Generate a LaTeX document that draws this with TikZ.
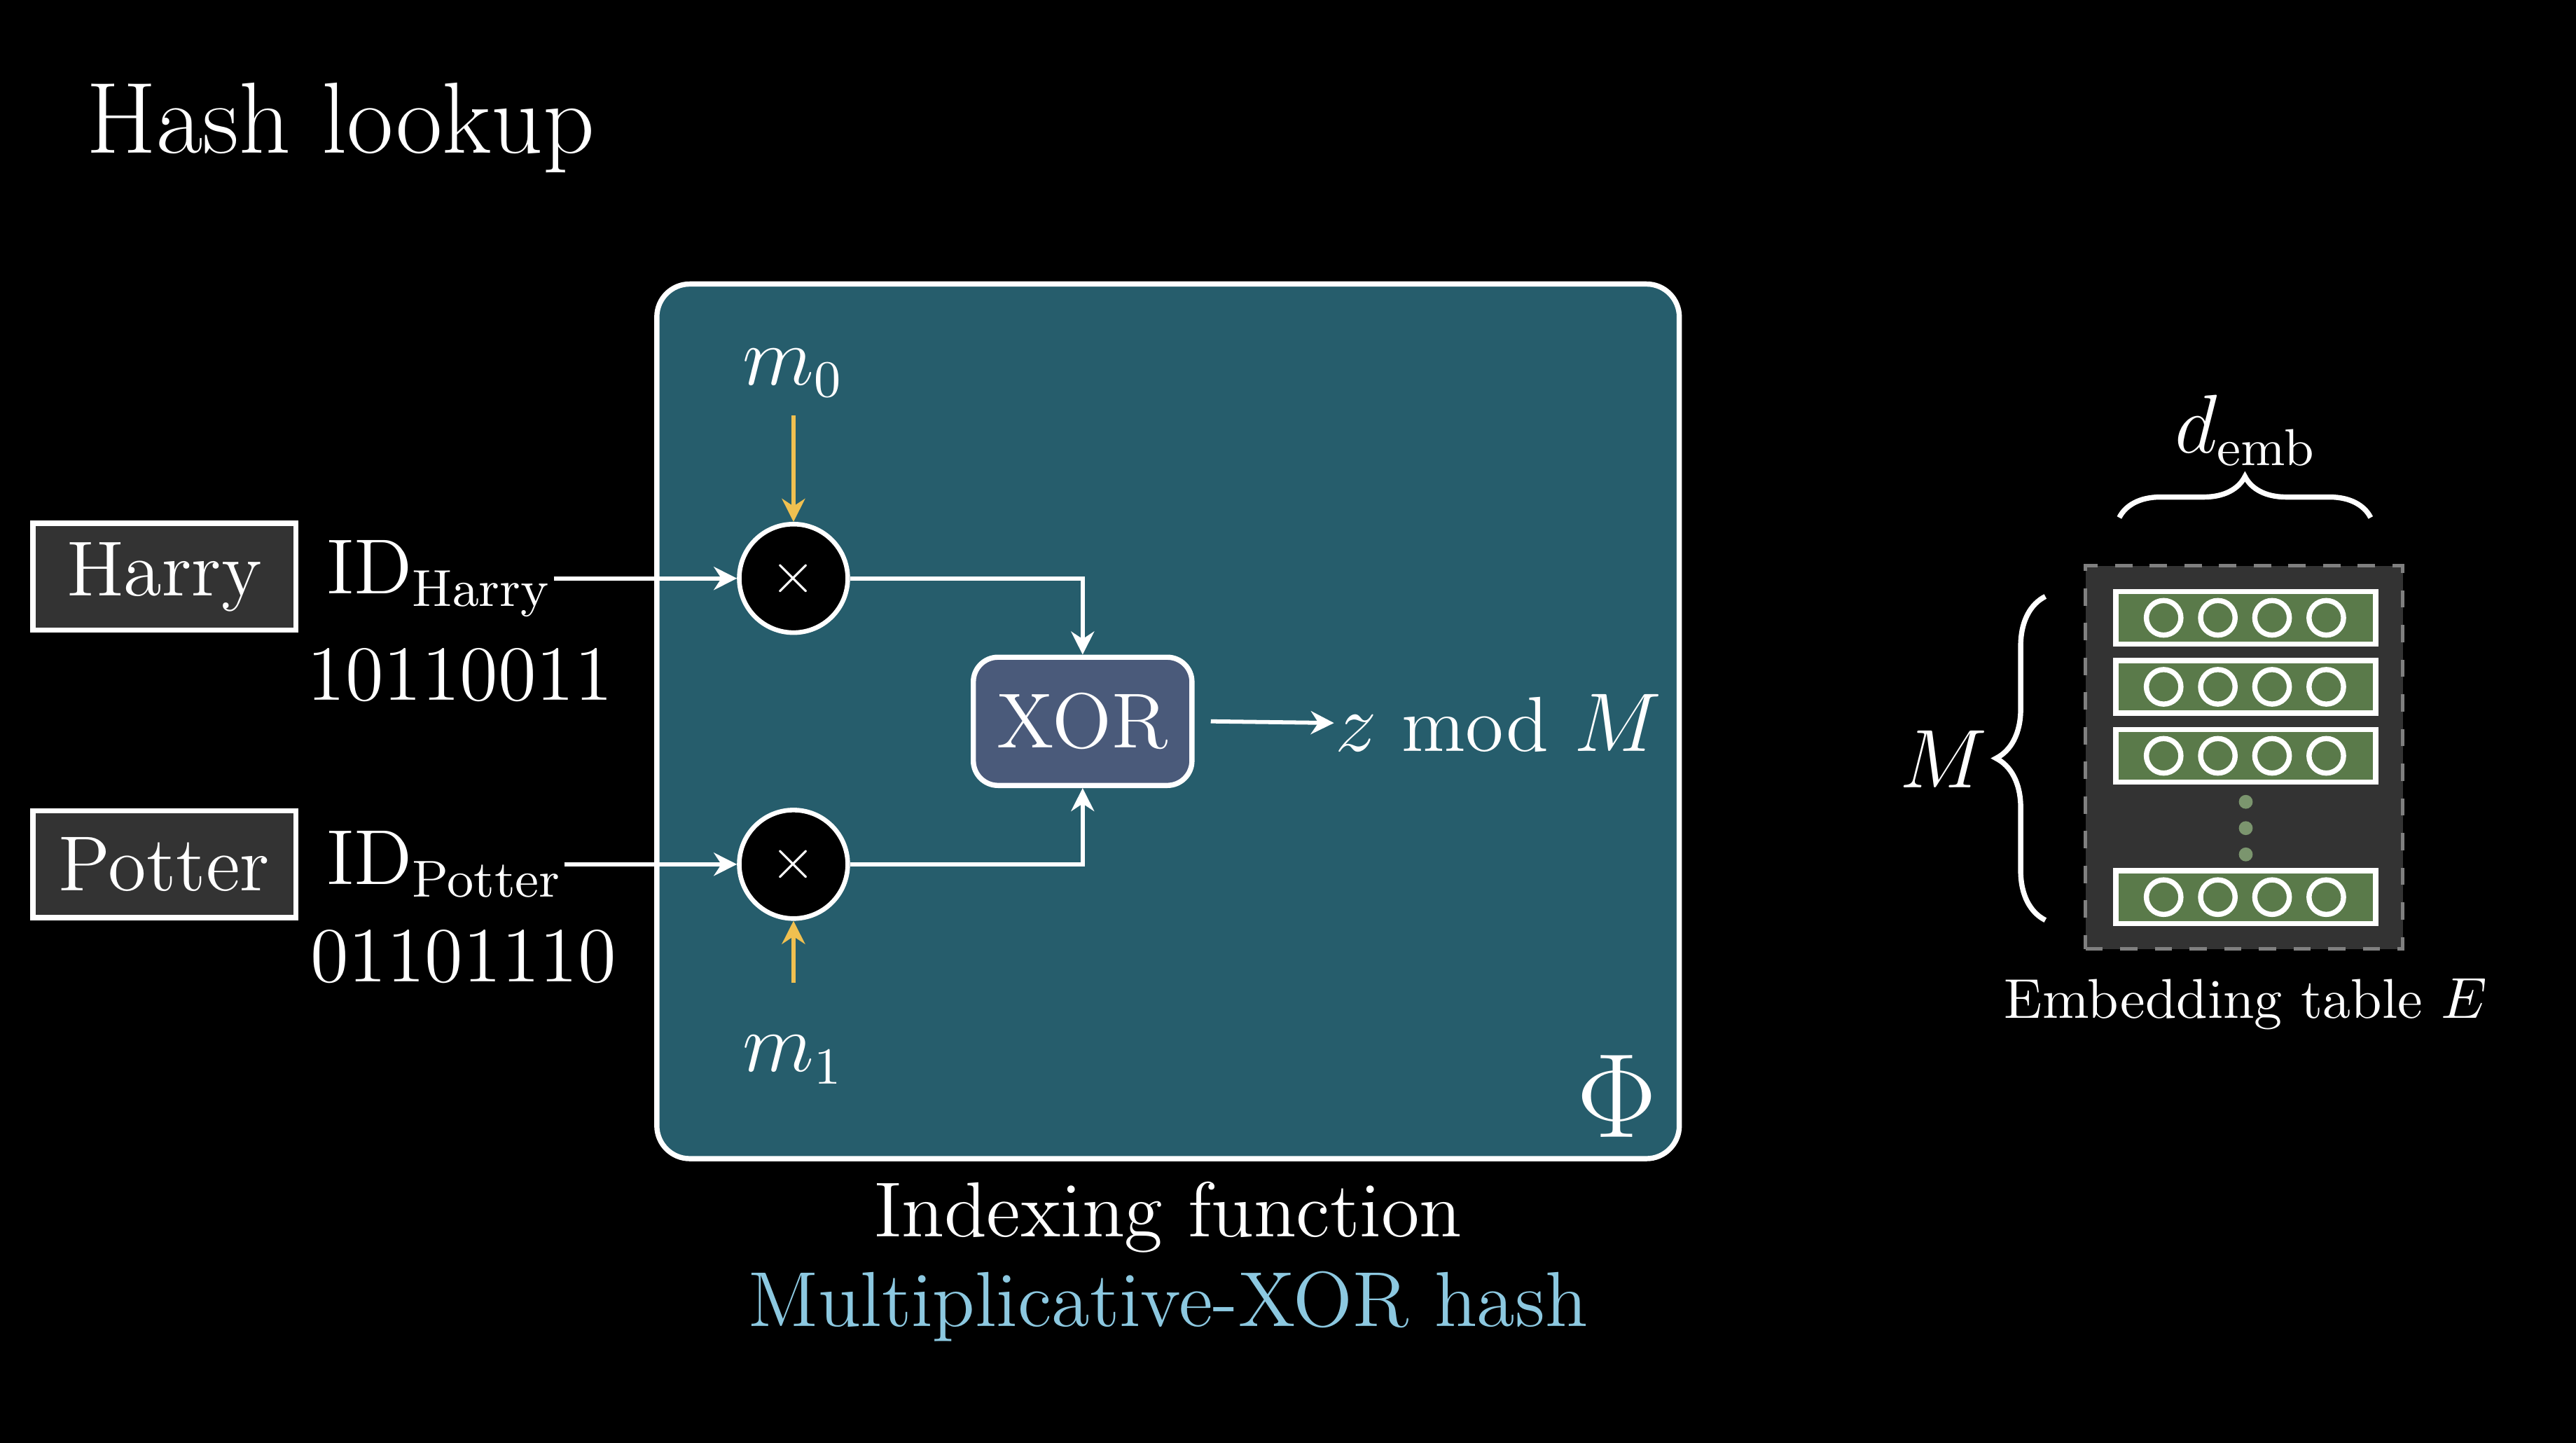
\documentclass[tikz,border=0pt]{standalone}
\usetikzlibrary{arrows.meta,decorations.pathreplacing,positioning}
\definecolor{teal}{HTML}{265D6C}
\definecolor{xorc}{HTML}{4A5A7A}
\definecolor{rowg}{HTML}{5A7A4A}
\definecolor{tbl}{HTML}{333333}
\definecolor{yel}{HTML}{F0C050}
\definecolor{lblue}{HTML}{8CC8E0}
\begin{document}
\begin{tikzpicture}[x=0.01cm,y=-0.01cm,
  txt/.style={text=white,font=\fontsize{13.5}{16}\selectfont,inner sep=0pt},
  wbox/.style={draw=white,line width=0.9pt,fill=tbl,minimum width=1.6cm,minimum height=0.65cm,txt},
  mul/.style={circle,draw=white,line width=0.8pt,fill=black,minimum size=0.66cm,inner sep=0pt},
  warr/.style={white,line width=0.7pt,-{Stealth[length=4pt,width=4pt]}},
  yarr/.style={yel,line width=0.7pt,-{Stealth[length=4pt,width=4pt]}},
  row/.style={draw=white,line width=0.9pt,fill=rowg,minimum width=1.58cm,minimum height=0.32cm,inner sep=0pt},
  cell/.style={circle,draw=white,line width=0.9pt,fill=rowg,minimum size=0.21cm,inner sep=0pt},
  brc/.style={white,line width=0.9pt,decorate}]
\fill[black] (0,0) rectangle (1568,878);
\useasboundingbox (0,0) rectangle (1568,878);
\node[txt,font=\fontsize{17.5}{20}\selectfont,anchor=west] (title) at (52,78) {Hash lookup};
% main box
\node[draw=white,line width=0.9pt,fill=teal,rounded corners=0.2cm,minimum width=6.22cm,minimum height=5.32cm] (phi) at (711,439) {};
\node[txt,font=\fontsize{22}{24}\selectfont] (phisym) at (984,667) {$\Phi$};
% inputs
\node[wbox] (harry) at (100,351) {Harry};
\node[wbox] (potter) at (100,526) {Potter};
\node[txt,anchor=west] (idh) at (198,352) {ID$_{\mathrm{Harry}}$};
\node[txt] (bh) at (280,411) {10110011};
\node[txt,anchor=west] (idp) at (198,526) {ID$_{\mathrm{Potter}}$};
\node[txt] (bp) at (282,582) {01101110};
% multipliers
\node[mul] (mh) at (483,352) {\textcolor{white}{$\times$}};
\node[mul] (mp) at (483,526) {\textcolor{white}{$\times$}};
\node[txt] (m0) at (483,227) {$m_0$};
\node[txt] (m1) at (483,645) {$m_1$};
\coordinate (m0e) at (483,253);
\coordinate (m1e) at (483,598);
\draw[yarr] (m0e) -- (mh.north);
\draw[yarr] (m1e) -- (mp.south);
\draw[warr] (idh.east |- mh) -- (mh.west);
\draw[warr] (idp.east |- mp) -- (mp.west);
% XOR
\node[draw=white,line width=0.9pt,fill=xorc,rounded corners=0.15cm,minimum width=1.33cm,minimum height=0.78cm,txt] (xor) at (659,439) {XOR};
\draw[warr] (mh.east) -| (xor.north);
\draw[warr] (mp.east) -| (xor.south);
\node[txt,anchor=west] (out) at (812,440) {$z$ mod $M$};
\coordinate (xa) at (737,439);
\draw[warr] (xa) -- (out.west);
% captions
\node[txt] (cap1) at (711,741) {Indexing function};
\node[txt,text=lblue] (cap2) at (711,795) {Multiplicative-XOR hash};
% embedding table
\node[draw=gray,dashed,line width=0.6pt,fill=tbl,minimum width=1.93cm,minimum height=2.33cm,inner sep=0pt] (tab) at (1366,461) {};
\foreach \i/\y in {1/376,2/418,3/460,4/546}{
  \node[row] (r\i) at (1367,\y) {};
  \foreach \j/\x in {1/1317,2/1350,3/1383,4/1416}
    \node[cell] (c\i\j) at (\x,\y) {};
}
\foreach \y in {488,504,520} \fill[rowg!80!white] (1367,\y) circle (1.2pt);
\draw[brc,decoration={brace,amplitude=0.25cm}] (1290,315) -- (1443,315);
\node[txt] (demb) at (1367,262) {$d_{\mathrm{emb}}$};
\draw[brc,decoration={brace,amplitude=0.3cm}] (1245,560) -- (1245,363);
\node[txt] (mm) at (1183,462) {$M$};
\node[txt,font=\fontsize{9.7}{12}\selectfont] (emb) at (1367,611) {Embedding table $E$};
\end{tikzpicture}
\end{document}
